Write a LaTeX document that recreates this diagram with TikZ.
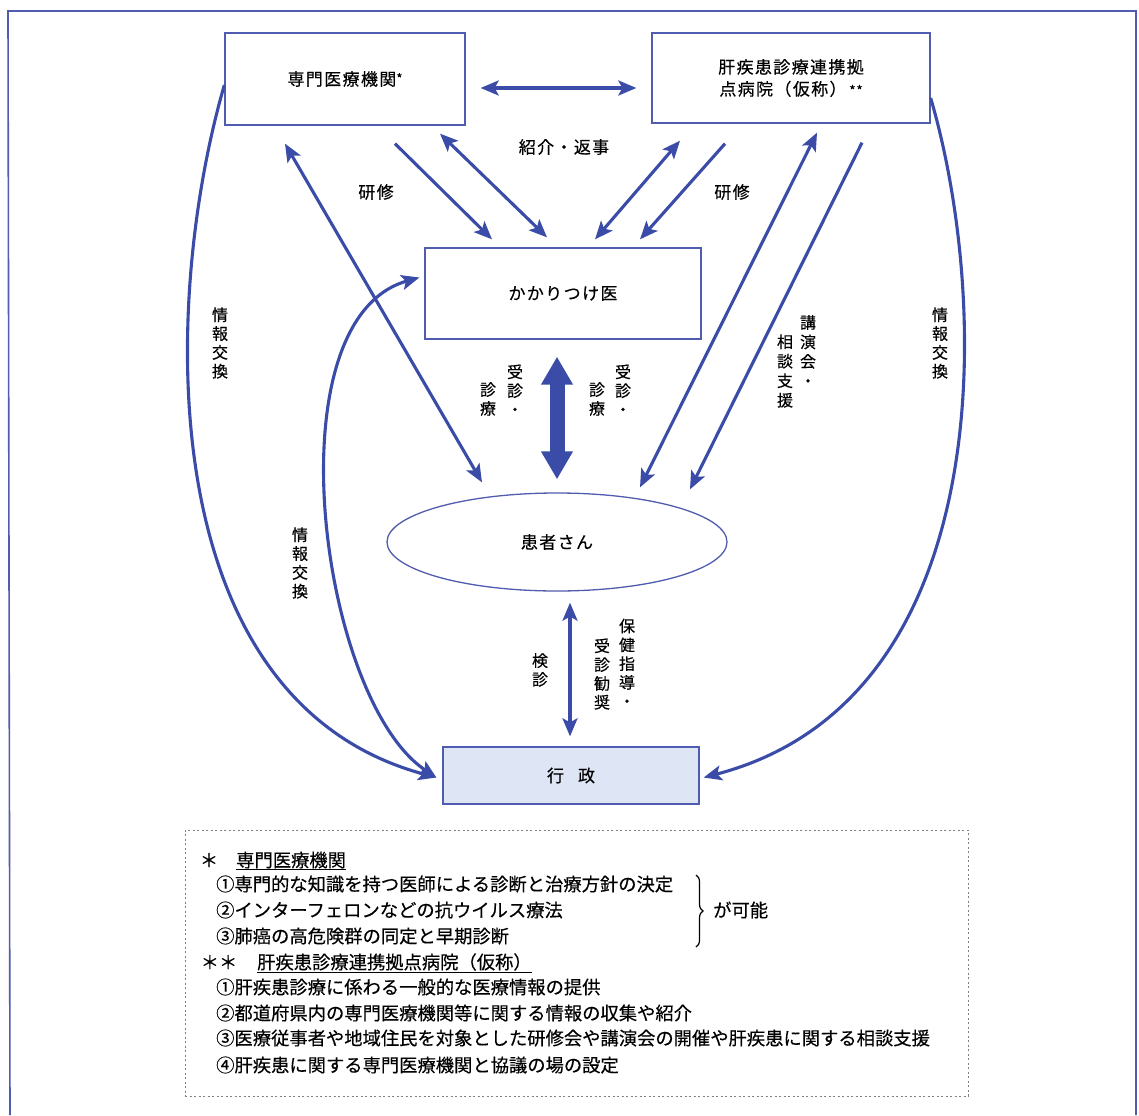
\documentclass[tikz,border=0pt]{standalone}
\usepackage{fontspec}
\newfontfamily\jp[FakeBold=0.35]{Noto Sans CJK JP}
\newfontfamily\jpsp[LetterSpace=8,FakeBold=0.35]{Noto Sans CJK JP}
\usetikzlibrary{arrows.meta,shapes.geometric,decorations.pathreplacing,calc}
\definecolor{lineblue}{RGB}{58,76,168}
\definecolor{boxblue}{RGB}{80,92,175}
\definecolor{fillblue}{RGB}{222,230,246}
\begin{document}
\begin{tikzpicture}[x=1pt,y=-1pt,
  box/.style={draw=boxblue, line width=1.3pt, fill=white},
  lbl/.style={font=\jpsp\fontsize{17}{22}\selectfont, inner sep=1pt},
  vlbl/.style={font=\jp\fontsize{16}{18.8}\selectfont, align=center, inner sep=0pt},
  vlblw/.style={font=\jp\fontsize{16}{19.5}\selectfont, align=center, inner sep=0pt},
  conn/.style={draw=lineblue, line width=3.1pt, >={Stealth[length=18pt,width=15pt,inset=4pt]}},
  bigconn/.style={draw=lineblue, line width=15pt, >={Triangle[length=28pt,width=30pt]}},
  leg/.style={font=\jp\fontsize{18.3}{22}\selectfont, anchor=west, inner sep=0pt},
]
\useasboundingbox (0,0) rectangle (1139,1115);
\fill[white] (0,0) rectangle (1139,1115);
\draw[draw=boxblue, line width=1.6pt] (10,1115) -- (8,11) -- (1136,11) -- (1136,1115);

% main nodes
\node[box, minimum width=240pt, minimum height=92pt, lbl] (A) at (345,79)
  {専門医療機関\raisebox{2pt}{\fontsize{13}{13}\selectfont *}};
\node[box, minimum width=278pt, minimum height=90pt, lbl, align=center] (B) at (791,78)
  {肝疾患診療連携拠\\点病院（仮称）\,{\fontsize{13}{13}\selectfont **}};
\node[box, minimum width=276pt, minimum height=91pt, lbl] (C) at (563,293.5) {かかりつけ医};
\node[ellipse, draw=boxblue, line width=1.3pt, minimum width=340pt, minimum height=98pt, lbl, inner sep=0pt] (E) at (557,542) {患者さん};
\node[box, fill=fillblue, minimum width=256pt, minimum height=57pt, lbl] (D) at (571,775.5) {行\hspace{14pt}政};

% straight connectors
\draw[conn,<->] ([shift={(15,9)}]A.east) -- ([shift={(-15,10)}]B.west);
\draw[conn,<->] ([shift={(-60,18)}]A.south) -- ([shift={(-75,-10)}]E.north);
\draw[conn,->] ([shift={(50,18)}]A.south) -- ([shift={(-71,-8)}]C.north);
\draw[conn,<->] ([shift={(95,8)}]A.south) -- ([shift={(-16,-10)}]C.north);
\draw[conn,<->] ([shift={(-111,17)}]B.south) -- ([shift={(32,-8)}]C.north);
\draw[conn,->] ([shift={(-66,20)}]B.south) -- ([shift={(77,-8)}]C.north);
\draw[conn,<->] ([shift={(26,9)}]B.south) -- ([shift={(83,-5)}]E.north);
\draw[conn,->] ([shift={(71,19)}]B.south) -- ([shift={(133,-3)}]E.north);
\draw[bigconn,<->] ([shift={(-6,17)}]C.south) -- ([shift={(0,-13)}]E.north);
\draw[conn,<->] ([shift={(13,11)}]E.south) -- ([shift={(-1,-10)}]D.north);

% curved connectors
\draw[conn,->] ([shift={(0,6)}]A.west) .. controls (162,300) and (150,700) .. ([shift={(-6,2)}]D.west);
\draw[conn,<->] ([shift={(-6,2)}]D.west) .. controls (320,700) and (270,320) .. ([shift={(-5,-16)}]C.west);
\draw[conn,->] ([shift={(0,20)}]B.east) .. controls (990,300) and (1000,700) .. ([shift={(4,2)}]D.east);

% labels
\node[lbl] (l1) at (564,147) {紹介・返事};
\node[lbl] (l2) at (376,192) {研修};
\node[lbl] (l3) at (732,192) {研修};
\node[vlbl] (v1) at (220,343) {情\\報\\交\\換};
\node[vlbl] (v2) at (940,343) {情\\報\\交\\換};
\node[vlbl] (v3) at (300,563) {情\\報\\交\\換};
\node[vlbl] (v4) at (515,390) {受\\診\\・};
\node[vlbl] (v5) at (488,399) {診\\療};
\node[vlbl] (v6) at (623,390) {受\\診\\・};
\node[vlbl] (v7) at (597,399) {診\\療};
\node[vlblw] (v8) at (808,351) {講\\演\\会\\・};
\node[vlblw] (v9) at (785,371) {相\\談\\支\\援};
\node[vlbl] (v10) at (540,670) {検\\診};
\node[vlbl] (v11) at (627,663) {保\\健\\指\\導\\・};
\node[vlbl] (v12) at (602,674) {受\\診\\勧\\奨};

% legend
\node[draw=gray, line width=0.9pt, dash pattern=on 2pt off 2.5pt, minimum width=783pt, minimum height=266pt, inner sep=0pt] (legbox) at (576.5,963) {};
\node[leg, anchor=center] (s1) at (209,860) {＊};
\node[leg] (h1) at (236,860) {専門医療機関};
\draw[line width=0.8pt] ([yshift=-1pt]h1.south west) -- ([yshift=-1pt]h1.south east);
\node[leg] (i1) at (216,884) {①専門的な知識を持つ医師による診断と治療方針の決定};
\node[leg] (i2) at (216,910) {②インターフェロンなどの抗ウイルス療法};
\node[leg] (i3) at (216,936) {③肺癌の高危険群の同定と早期診断};
\coordinate (bt) at (696,875);
\coordinate (bb) at (696,947);
\draw[line width=1.2pt, decorate, decoration={brace, amplitude=7pt}] (bt) -- (bb);
\node[leg] (kanou) at (713,910) {が可能};
\node[leg, anchor=center] (s2) at (219,962) {＊＊};
\node[leg] (h2) at (257,962) {肝疾患診療連携拠点病院（仮称）};
\draw[line width=0.8pt] ([yshift=-1pt]h2.south west) -- ([yshift=-1pt]h2.south east);
\node[leg] (j1) at (216,987) {①肝疾患診療に係わる一般的な医療情報の提供};
\node[leg] (j2) at (216,1013) {②都道府県内の専門医療機関等に関する情報の収集や紹介};
\node[leg] (j3) at (216,1038) {③医療従事者や地域住民を対象とした研修会や講演会の開催や肝疾患に関する相談支援};
\node[leg] (j4) at (216,1065) {④肝疾患に関する専門医療機関と協議の場の設定};
\end{tikzpicture}
\end{document}
